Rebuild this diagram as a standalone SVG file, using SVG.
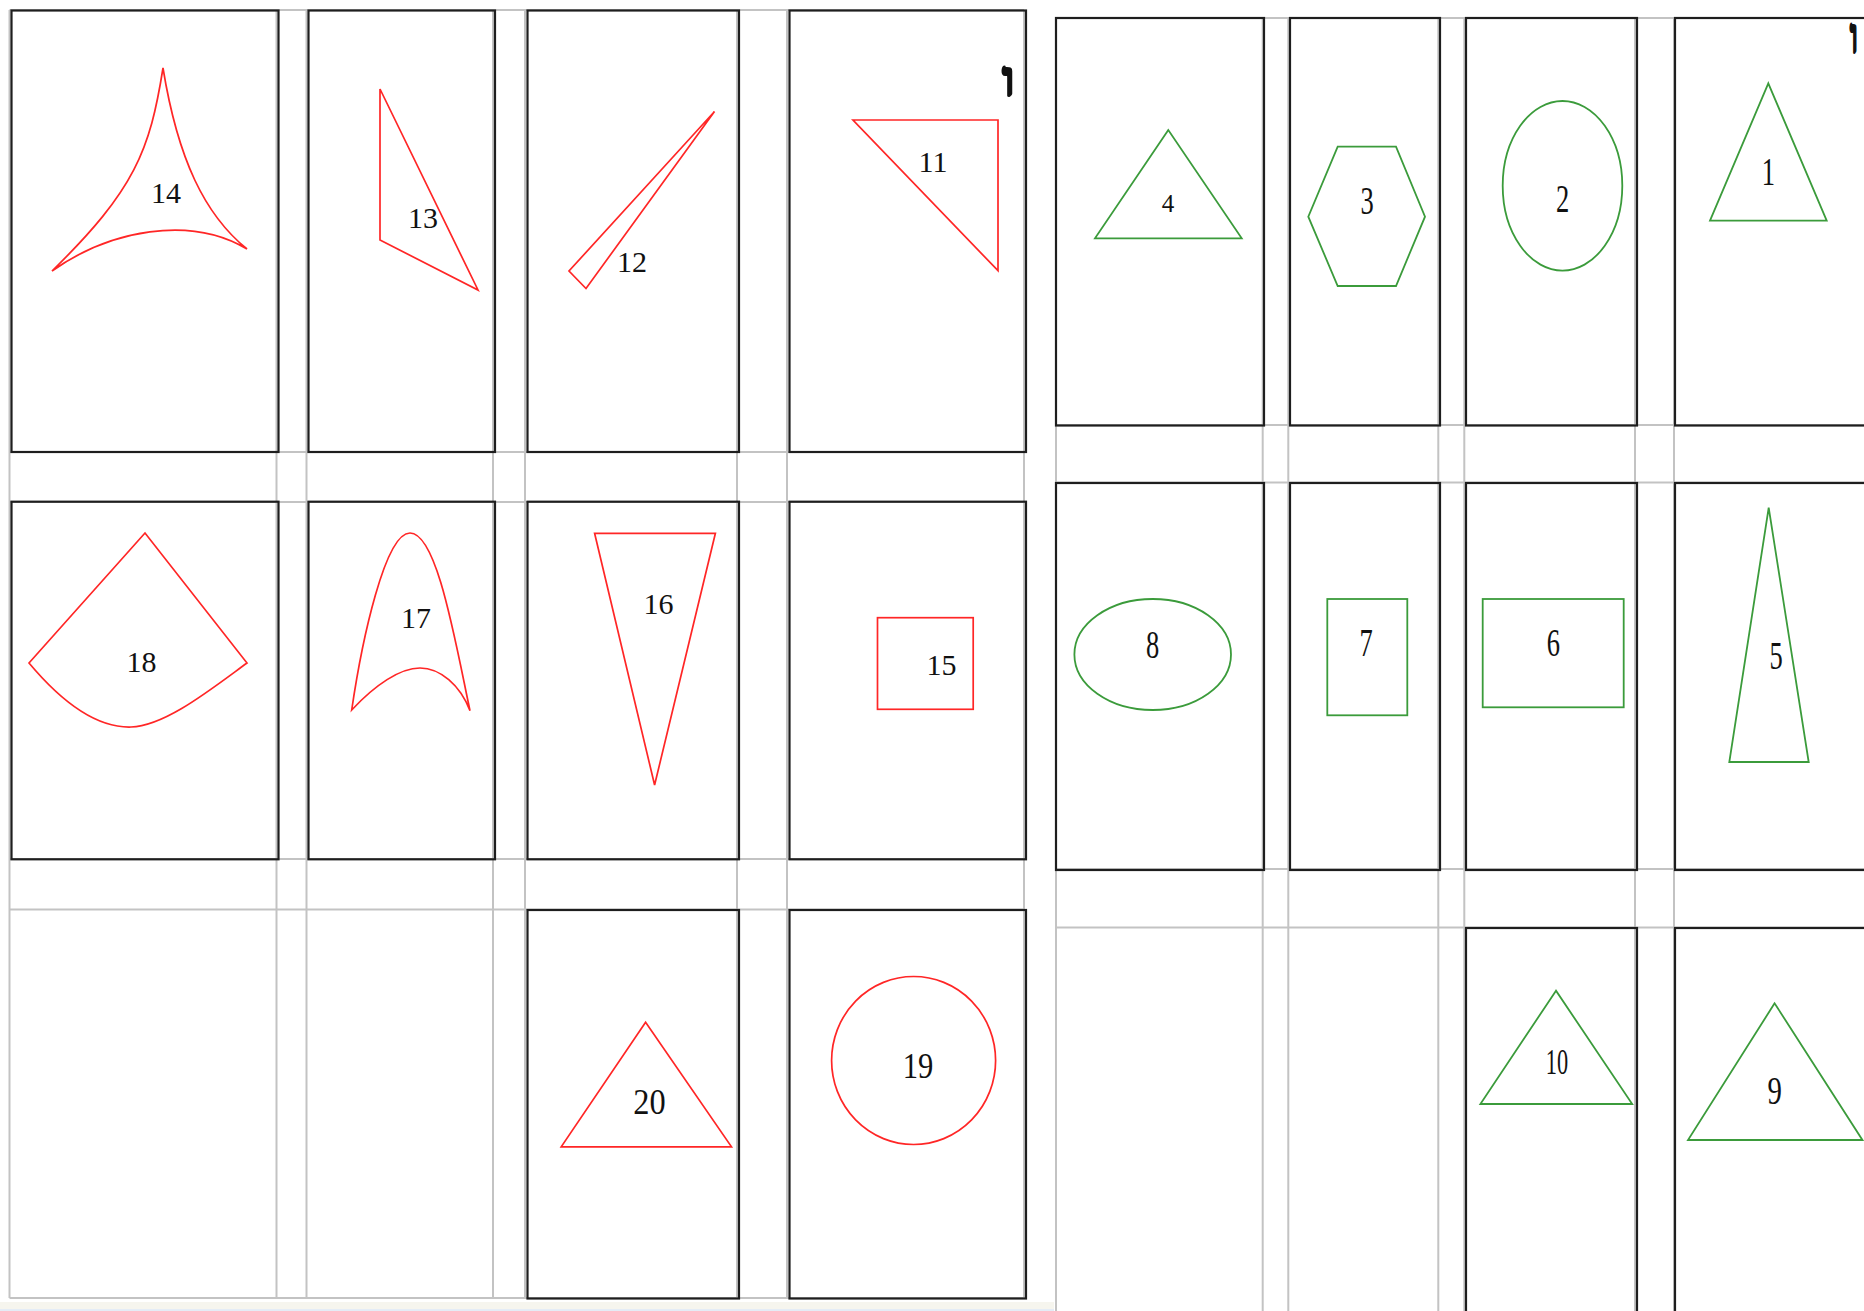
<svg xmlns="http://www.w3.org/2000/svg" width="1864" height="1311" viewBox="0 0 1864 1311">
<style>
.grid{stroke:#c3c3c3;stroke-width:2;fill:none}
.box{fill:none;stroke:#1e1e1e;stroke-width:2.2}
.red{fill:none;stroke:#ff2626;stroke-width:1.7;stroke-linejoin:miter}
.grn{fill:none;stroke:#3b9b3b;stroke-width:1.8}
.lbl{font-family:"Liberation Serif","Times New Roman",serif;font-size:30px;fill:#111;text-anchor:middle}
.lbl3{font-family:"Liberation Serif","Times New Roman",serif;font-size:36px;fill:#111;text-anchor:middle}
.rl{font-family:"Liberation Serif","Times New Roman",serif;font-size:39px;fill:#111;text-anchor:middle}
.mark{font-family:"Liberation Serif","DejaVu Sans",serif;font-weight:bold;font-size:50px;fill:#111;stroke:#111;stroke-width:2.2;stroke-linejoin:round;text-anchor:middle}
</style>
<rect x="0" y="0" width="1864" height="1311" fill="#ffffff"/>
<rect x="0" y="1302" width="1054" height="9" fill="#f6f5ee"/>
<rect x="0" y="1309" width="1054" height="2" fill="#e4ecf6"/>

<g id="grid-left">
<path class="grid" d="M9.5,10V1298M276.5,10V1298M306.5,10V1298M493,10V1298M525,10V1298M737,10V1298M787,10V1298M1024,10V1298"/>
<path class="grid" d="M9.5,10H1024M9.5,452H1024M9.5,502H1024M9.5,859H1024M9.5,909.5H1024M9.5,1298H1024"/>
</g>
<g id="grid-right">
<path class="grid" d="M1056,18V1311M1262.7,18V1311M1288.3,18V1311M1438.3,18V1311M1464.3,18V1311M1635,18V1311M1674,18V1311"/>
<path class="grid" d="M1056,18H1864M1056,425H1864M1056,482.5H1864M1056,869H1864M1056,927.5H1864"/>
</g>

<g id="connectors"></g>

<g id="node-14"><rect class="box" x="11.5" y="10.5" width="267" height="441.5"/>
<path class="red" d="M163,68 C150,150 135,190 52,271 C110,230 190,215 247,249 C205,215 178,160 163,68 Z"/>
<text class="lbl" x="166" y="202.5">14</text></g>

<g id="node-13"><rect class="box" x="308.5" y="10.5" width="186.5" height="441.5"/>
<polygon class="red" points="380,89 380,240 478,290"/>
<text class="lbl" x="423" y="227.5">13</text></g>

<g id="node-12"><rect class="box" x="527.5" y="10.5" width="211.5" height="441.5"/>
<polygon class="red" points="714.5,111.5 569,271 586,288.5"/>
<text class="lbl" x="632" y="272">12</text></g>

<g id="node-11"><rect class="box" x="789.5" y="10.5" width="236.5" height="441.5"/>
<polygon class="red" points="853,120 998,120 998,270.7"/>
<text class="lbl" x="933" y="172">11</text></g>

<g id="mark-left"><text class="mark" x="1008.5" y="95.5">ו</text></g>

<g id="node-18"><rect class="box" x="11.5" y="501.7" width="267" height="357.6"/>
<path class="red" d="M29,663 L145,533 L247,663 C210,690 165,726 131,727 C95,728 60,700 29,663 Z"/>
<text class="lbl" x="141.5" y="671.5">18</text></g>

<g id="node-17"><rect class="box" x="308.5" y="501.7" width="186.5" height="357.6"/>
<path class="red" d="M351.7,710 C362,640 385,533 410,533 C437,533 455,640 470,710.7 C460,685 440,668 420,668 C400,668 375,685 351.7,710 Z"/>
<text class="lbl" x="416" y="627.5">17</text></g>

<g id="node-16"><rect class="box" x="527.5" y="501.7" width="211.5" height="357.6"/>
<polygon class="red" points="594.6,533.3 715.4,533.3 654.6,785"/>
<text class="lbl" x="658.5" y="613.5">16</text></g>

<g id="node-15"><rect class="box" x="789.5" y="501.7" width="236.5" height="357.6"/>
<rect class="red" x="877.5" y="617.7" width="95.7" height="91.6"/>
<text class="lbl" x="941.5" y="674.5">15</text></g>

<g id="node-20"><rect class="box" x="527.5" y="910" width="211.5" height="388.5"/>
<polygon class="red" points="645.6,1022.3 561.2,1146.8 731.5,1146.8"/>
<text class="lbl3" transform="translate(649.5,1114) scale(0.9,1)">20</text></g>

<g id="node-19"><rect class="box" x="789.5" y="910" width="236.5" height="388.5"/>
<ellipse class="red" cx="913.6" cy="1060.5" rx="82" ry="84"/>
<text class="lbl3" transform="translate(918,1078) scale(0.85,1)">19</text></g>

<g id="node-4"><rect class="box" x="1056" y="18" width="208" height="407.5"/>
<polygon class="grn" points="1168.3,130 1095,238.3 1241.7,238.3"/>
<text class="lbl" style="font-size:25px" x="1168" y="211.5">4</text></g>

<g id="node-3"><rect class="box" x="1290" y="18" width="150" height="407.5"/>
<polygon class="grn" points="1337.7,146.7 1396,146.7 1425,216.7 1396,286 1337.7,286 1308.3,216.7"/>
<text class="rl" transform="translate(1367,213.5) scale(0.68,1)">3</text></g>

<g id="node-2"><rect class="box" x="1466" y="18" width="171" height="407.5"/>
<ellipse class="grn" cx="1562.5" cy="185.8" rx="59.8" ry="84.8"/>
<text class="rl" transform="translate(1562.7,211.5) scale(0.68,1)">2</text></g>

<g id="node-1"><rect class="box" x="1675" y="18" width="195" height="407.5"/>
<polygon class="grn" points="1768.3,83.3 1710,220.7 1826.7,220.7"/>
<text class="rl" transform="translate(1768.3,185) scale(0.68,1)">1</text></g>

<g id="mark-right"><text class="mark" transform="translate(1854,53) scale(0.65,1)">ו</text></g>

<g id="node-8"><rect class="box" x="1056" y="483" width="208" height="387"/>
<ellipse class="grn" cx="1152.7" cy="654.5" rx="78.3" ry="55.5"/>
<text class="rl" transform="translate(1152.7,658.3) scale(0.68,1)">8</text></g>

<g id="node-7"><rect class="box" x="1290" y="483" width="150" height="387"/>
<rect class="grn" x="1327.3" y="599" width="80" height="116.3"/>
<text class="rl" transform="translate(1366,656) scale(0.68,1)">7</text></g>

<g id="node-6"><rect class="box" x="1466" y="483" width="171" height="387"/>
<rect class="grn" x="1482.7" y="599" width="141" height="108.3"/>
<text class="rl" transform="translate(1553.3,656) scale(0.68,1)">6</text></g>

<g id="node-5"><rect class="box" x="1675" y="483" width="195" height="387"/>
<polygon class="grn" points="1768.7,507.7 1729.3,762 1808.7,762"/>
<text class="rl" transform="translate(1776,669.3) scale(0.68,1)">5</text></g>

<g id="node-10"><rect class="box" x="1466" y="928" width="171" height="400"/>
<polygon class="grn" points="1556,990.7 1480.4,1104 1632.2,1104"/>
<text class="rl" style="font-size:36px" transform="translate(1557,1074) scale(0.62,1)">10</text></g>

<g id="node-9"><rect class="box" x="1675" y="928" width="195" height="400"/>
<polygon class="grn" points="1774.6,1003.3 1688,1140 1862.4,1140"/>
<text class="rl" transform="translate(1774.6,1104) scale(0.74,1)">9</text></g>
</svg>
